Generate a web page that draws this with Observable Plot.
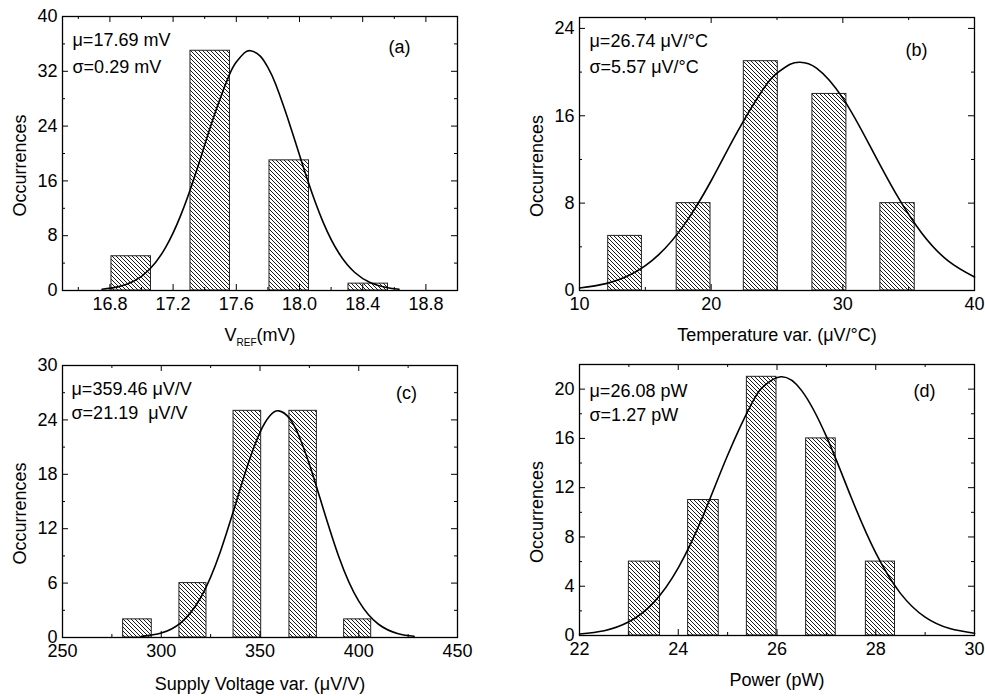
<!DOCTYPE html>
<html><head><meta charset="utf-8">
<script src="https://cdn.jsdelivr.net/npm/d3@7"></script>
<script src="https://cdn.jsdelivr.net/npm/@observablehq/plot@0.6"></script>
<style>
html,body{margin:0;padding:0;background:#fff;}
#wrap{position:relative;width:985px;height:696px;background:#fff;overflow:hidden;}
.panel{position:absolute;}
</style></head><body>
<svg width="0" height="0" style="position:absolute">
<defs><pattern id="hatch" patternUnits="userSpaceOnUse" width="4" height="4">
<path d="M-1,-1 L5,5 M-1,3 L1,5 M3,-1 L5,1" stroke="#000" stroke-width="0.9"/>
</pattern></defs></svg>
<div id="wrap"></div>
<script>
// ---- Panel (a): V_REF ----
const binStartA = [16.81, 17.31, 17.81, 18.31];
const binEndA   = [17.06, 17.56, 18.06, 18.56];
const countsA   = [5, 35, 19, 1];
const curveAX = [16.75,16.85,16.95,17.05,17.15,17.25,17.35,17.45,17.55,17.60,17.65,17.69,17.75,17.80,17.85,17.95,18.05,18.15,18.25,18.35,18.45,18.55,18.63];
const curveAY = [0.18,0.53,1.35,3.07,6.18,11.07,17.6,24.85,31.15,33.35,34.67,35.0,34.26,32.57,30.06,23.41,16.2,9.95,5.43,2.63,1.13,0.43,0.18];
const xMajorA = [16.8, 17.2, 17.6, 18.0, 18.4, 18.8];
const xMinorA = [16.6, 17.0, 17.4, 17.8, 18.2, 18.6];
const yMajorA = [0, 8, 16, 24, 32, 40];
const yMinorA = [4, 12, 20, 28, 36];

// ---- Panel (b): Temperature var. ----
const binStartB = [12.18, 17.38, 22.48, 27.69, 32.85];
const binEndB   = [14.74, 19.95, 25.06, 30.27, 35.46];
const countsB   = [5, 8, 21, 18, 8];
const curveBX = [10,12,14,16,18,20,22,24,25,26,26.74,28,30,32,34,36,38,40];
const curveBY = [0.23,0.63,1.53,3.26,6.10,10.05,14.55,18.52,19.9,20.72,20.9,20.37,17.62,13.38,8.94,5.25,2.71,1.23];
const xMajorB = [10, 20, 30, 40];
const xMinorB = [15, 25, 35];
const yMajorB = [0, 8, 16, 24];
const yMinorB = [4, 12, 20];

// ---- Panel (c): Supply Voltage var. ----
const binStartC = [280.7, 309.2, 336.6, 364.9, 392.6];
const binEndC   = [295.2, 322.9, 350.6, 378.8, 406.3];
const countsC   = [2, 6, 25, 25, 2];
const curveCX = [290,300,310,320,330,340,345,350,355,359.46,365,370,375,380,390,400,410,420,428];
const curveCY = [0.12,0.49,1.64,4.41,9.52,16.4,19.8,22.63,24.45,25.0,24.16,22.09,19.1,15.64,8.85,4.01,1.46,0.42,0.13];
const xMajorC = [250, 300, 350, 400, 450];
const xMinorC = [275, 325, 375, 425];
const yMajorC = [0, 6, 12, 18, 24, 30];
const yMinorC = [3, 9, 15, 21, 27];

// ---- Panel (d): Power ----
const binStartD = [23.0, 24.2, 25.39, 26.59, 27.8];
const binEndD   = [23.63, 24.82, 25.99, 27.19, 28.39];
const countsD   = [6, 11, 21, 16, 6];
const curveDX = [22,22.5,23,23.5,24,24.5,25,25.5,25.75,26.08,26.5,27,27.5,28,28.5,29,29.5,30];
const curveDY = [0.12,0.39,1.11,2.67,5.49,9.69,14.63,18.92,20.3,21.0,19.88,16.16,11.24,6.70,3.42,1.49,0.56,0.18];
const xMajorD = [22, 24, 26, 28, 30];
const xMinorD = [23, 25, 27, 29];
const yMajorD = [0, 4, 8, 12, 16, 20];
const yMinorD = [2, 6, 10, 14, 18];

const yTitle = "Occurrences";

function panel(cfg) {
  const innerW = cfg.width - cfg.mL - cfg.mR;
  const innerH = cfg.height - cfg.mT - cfg.mB;
  const bars = cfg.binStart.map((s, i) => ({x1: s, x2: cfg.binEnd[i], n: cfg.counts[i]}));
  const curve = cfg.curveX.map((x, i) => ({x, y: cfg.curveY[i]}));
  const maj = 6, min = 3;
  const plot = Plot.plot({
    width: cfg.width, height: cfg.height,
    marginLeft: cfg.mL, marginRight: cfg.mR, marginTop: cfg.mT, marginBottom: cfg.mB,
    x: {domain: cfg.xDomain},
    y: {domain: cfg.yDomain},
    style: {fontFamily: "'Liberation Sans', Arial, sans-serif", fontSize: "18px", color: "#000", background: "transparent", overflow: "visible"},
    marks: [
      Plot.rectY(bars, {x1: "x1", x2: "x2", y: "n", fill: "url(#hatch)", stroke: "#222", strokeWidth: 1}),
      Plot.line(curve, {x: "x", y: "y", curve: "natural", stroke: "#000", strokeWidth: 1.6}),
      Plot.frame({stroke: "#000", strokeWidth: 1.3}),
      Plot.tickX(cfg.xMajor, {x: d => d, insetTop: innerH - maj, stroke: "#000"}),
      Plot.tickX(cfg.xMajor, {x: d => d, insetBottom: innerH - maj, stroke: "#000"}),
      Plot.tickX(cfg.xMinor, {x: d => d, insetTop: innerH - min, stroke: "#000"}),
      Plot.tickX(cfg.xMinor, {x: d => d, insetBottom: innerH - min, stroke: "#000"}),
      Plot.tickY(cfg.yMajor, {y: d => d, insetRight: innerW - maj, stroke: "#000"}),
      Plot.tickY(cfg.yMajor, {y: d => d, insetLeft: innerW - maj, stroke: "#000"}),
      Plot.tickY(cfg.yMinor, {y: d => d, insetRight: innerW - min, stroke: "#000"}),
      Plot.tickY(cfg.yMinor, {y: d => d, insetLeft: innerW - min, stroke: "#000"}),
      Plot.axisX({ticks: cfg.xMajor, tickSize: 0, tickPadding: 7, label: null, tickFormat: cfg.xFormat}),
      Plot.axisY({ticks: cfg.yMajor, tickSize: 0, tickPadding: 5, label: null}),
      Plot.text([cfg.xTitle], {text: d => d, frameAnchor: "bottom", dy: cfg.xTitleDy, lineAnchor: "top", textAnchor: "middle"}),
      Plot.text([yTitle], {text: d => d, frameAnchor: "left", rotate: -90, dx: -42, dy: 12, textAnchor: "middle", lineAnchor: "middle"}),
      Plot.text([cfg.mu], {text: d => d, frameAnchor: "top-left", dx: cfg.annDx, dy: cfg.muDy, lineAnchor: "top", textAnchor: "start"}),
      Plot.text([cfg.sigma], {text: d => d, frameAnchor: "top-left", dx: cfg.annDx, dy: cfg.sigmaDy, lineAnchor: "top", textAnchor: "start"}),
      Plot.text([cfg.tag], {text: d => d, frameAnchor: "top-right", dx: cfg.tagDx, dy: cfg.tagDy, lineAnchor: "top", textAnchor: "middle"})
    ]
  });
  const div = document.createElement("div");
  div.className = "panel";
  div.style.left = cfg.left + "px";
  div.style.top = cfg.top + "px";
  div.appendChild(plot);
  document.getElementById("wrap").appendChild(div);
  return plot;
}

const pa = panel({left: 0, top: 0, width: 490, height: 340, mL: 62, mR: 33, mT: 16, mB: 50,
  xDomain: [16.5, 19.0], yDomain: [0, 40], xMajor: xMajorA, xMinor: xMinorA, yMajor: yMajorA, yMinor: yMinorA,
  xFormat: d3.format(".1f"), binStart: binStartA, binEnd: binEndA, counts: countsA, curveX: curveAX, curveY: curveAY,
  xTitle: "VREF(mV)", xTitleDy: 38, mu: "μ=17.69 mV", sigma: "σ=0.29 mV", annDx: 10, muDy: 17, sigmaDy: 44,
  tag: "(a)", tagDx: -58, tagDy: 24});

panel({left: 490, top: 0, width: 495, height: 340, mL: 89, mR: 11, mT: 17, mB: 50,
  xDomain: [10, 40], yDomain: [0, 25], xMajor: xMajorB, xMinor: xMinorB, yMajor: yMajorB, yMinor: yMinorB,
  xFormat: d3.format("d"), binStart: binStartB, binEnd: binEndB, counts: countsB, curveX: curveBX, curveY: curveBY,
  xTitle: "Temperature var. (μV/°C)", xTitleDy: 38, mu: "μ=26.74 μV/°C", sigma: "σ=5.57 μV/°C", annDx: 10, muDy: 17, sigmaDy: 43,
  tag: "(b)", tagDx: -58, tagDy: 26});

panel({left: 0, top: 340, width: 490, height: 356, mL: 62, mR: 33, mT: 25, mB: 59,
  xDomain: [250, 450], yDomain: [0, 30], xMajor: xMajorC, xMinor: xMinorC, yMajor: yMajorC, yMinor: yMinorC,
  xFormat: d3.format("d"), binStart: binStartC, binEnd: binEndC, counts: countsC, curveX: curveCX, curveY: curveCY,
  xTitle: "Supply Voltage var. (μV/V)", xTitleDy: 40, mu: "μ=359.46 μV/V", sigma: "σ=21.19  μV/V", annDx: 9, muDy: 17, sigmaDy: 41,
  tag: "(c)", tagDx: -51, tagDy: 21});

panel({left: 490, top: 340, width: 495, height: 356, mL: 89, mR: 11, mT: 24, mB: 61,
  xDomain: [22, 30], yDomain: [0, 22], xMajor: xMajorD, xMinor: xMinorD, yMajor: yMajorD, yMinor: yMinorD,
  xFormat: d3.format("d"), binStart: binStartD, binEnd: binEndD, counts: countsD, curveX: curveDX, curveY: curveDY,
  xTitle: "Power (pW)", xTitleDy: 38, mu: "μ=26.08 pW", sigma: "σ=1.27 pW", annDx: 10, muDy: 20, sigmaDy: 44,
  tag: "(d)", tagDx: -50, tagDy: 20});

// subscript for V_REF
pa.querySelectorAll("text").forEach(t => {
  if (t.textContent === "VREF(mV)") {
    const ns = "http://www.w3.org/2000/svg";
    while (t.firstChild) t.removeChild(t.firstChild);
    t.appendChild(document.createTextNode("V"));
    const sub = document.createElementNS(ns, "tspan");
    sub.setAttribute("font-size", "10px");
    sub.setAttribute("dy", "5");
    sub.textContent = "REF";
    t.appendChild(sub);
    const rest = document.createElementNS(ns, "tspan");
    rest.setAttribute("dy", "-5");
    rest.textContent = "(mV)";
    t.appendChild(rest);
  }
});
</script>
</body></html>
